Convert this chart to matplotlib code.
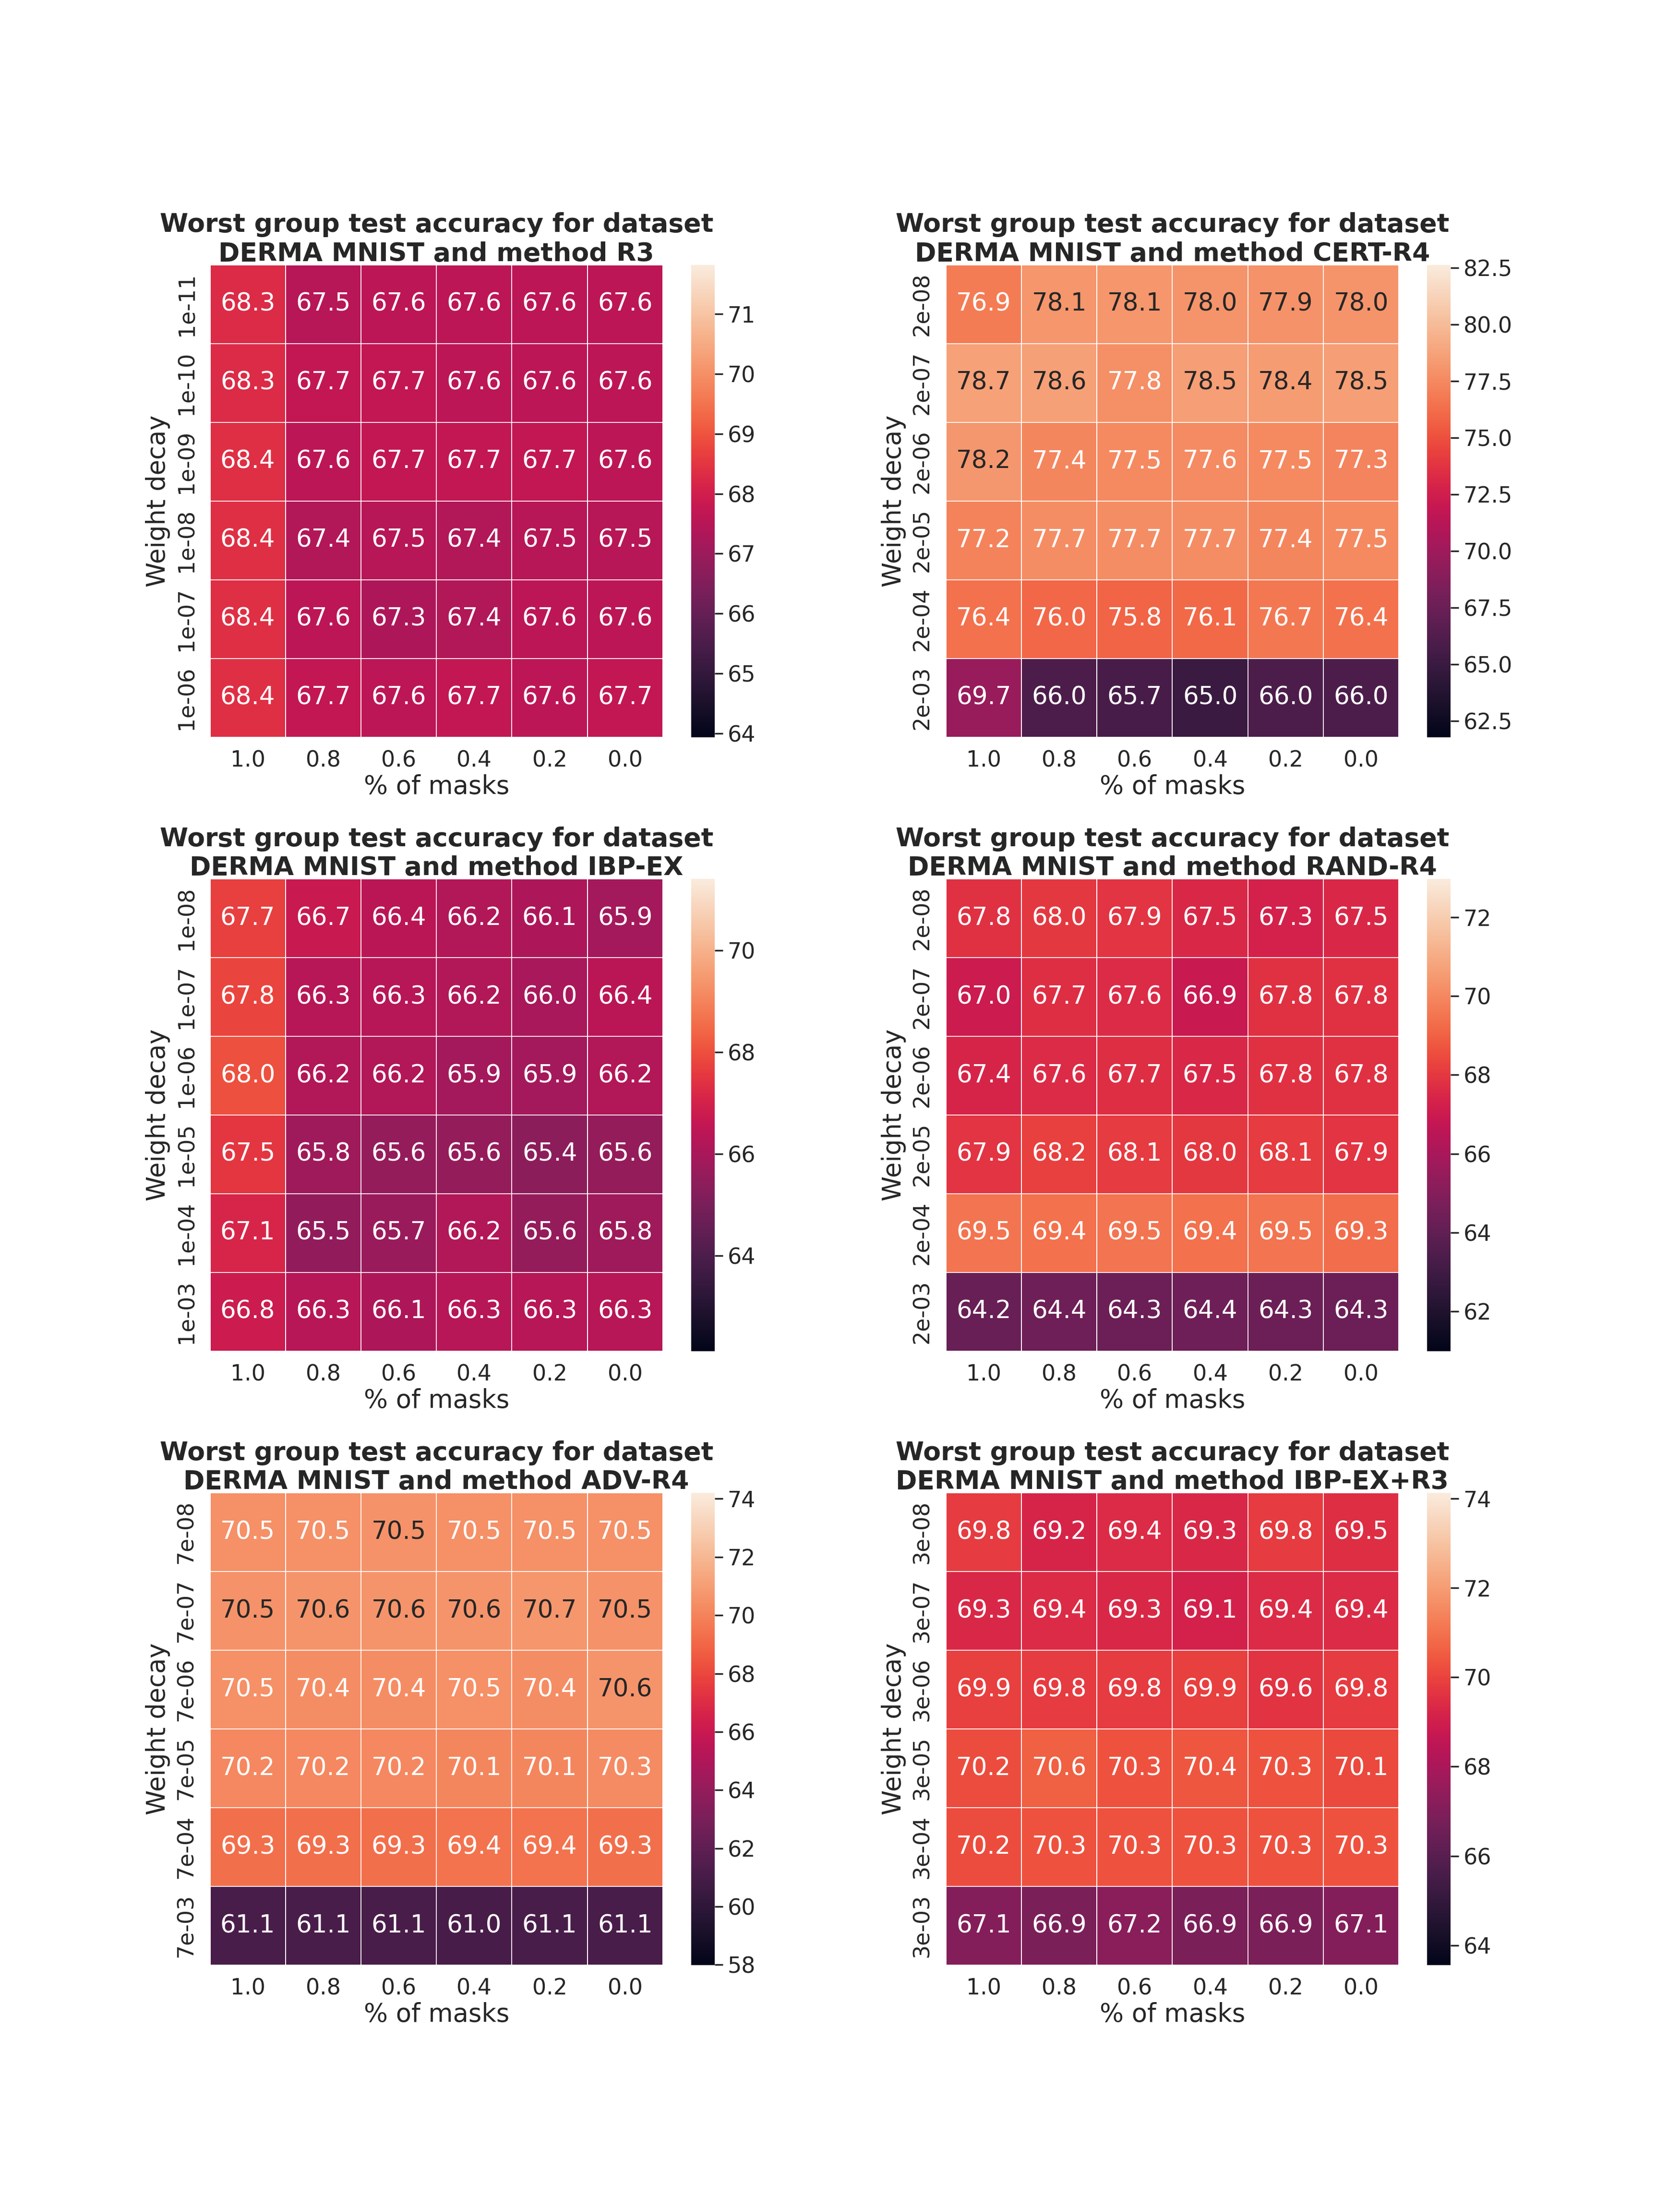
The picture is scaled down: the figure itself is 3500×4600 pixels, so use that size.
import numpy as np
import matplotlib
matplotlib.use("Agg")
import matplotlib.pyplot as plt
import seaborn as sns

sns.set_theme(style="white", font_scale=1.5)

masks = ["1.0", "0.8", "0.6", "0.4", "0.2", "0.0"]

# R3
wd_r3 = ["1e-11", "1e-10", "1e-09", "1e-08", "1e-07", "1e-06"]
acc_r3 = [
    [68.3, 67.5, 67.6, 67.6, 67.6, 67.6],
    [68.3, 67.7, 67.7, 67.6, 67.6, 67.6],
    [68.4, 67.6, 67.7, 67.7, 67.7, 67.6],
    [68.4, 67.4, 67.5, 67.4, 67.5, 67.5],
    [68.4, 67.6, 67.3, 67.4, 67.6, 67.6],
    [68.4, 67.7, 67.6, 67.7, 67.6, 67.7],
]

# CERT-R4
wd_cert = ["2e-08", "2e-07", "2e-06", "2e-05", "2e-04", "2e-03"]
acc_cert = [
    [76.9, 78.1, 78.1, 78.0, 77.92, 78.0],
    [78.69, 78.6, 77.8, 78.5, 78.4, 78.5],
    [78.2, 77.4, 77.5, 77.6, 77.5, 77.3],
    [77.2, 77.7, 77.7, 77.7, 77.4, 77.5],
    [76.4, 76.0, 75.8, 76.1, 76.7, 76.4],
    [69.7, 66.0, 65.7, 65.04, 66.0, 66.0],
]

# IBP-EX
wd_ibp = ["1e-08", "1e-07", "1e-06", "1e-05", "1e-04", "1e-03"]
acc_ibp = [
    [67.7, 66.7, 66.4, 66.2, 66.1, 65.9],
    [67.8, 66.3, 66.3, 66.2, 66.0, 66.4],
    [68.0, 66.2, 66.2, 65.9, 65.9, 66.2],
    [67.5, 65.8, 65.6, 65.6, 65.4, 65.6],
    [67.1, 65.5, 65.7, 66.2, 65.6, 65.8],
    [66.8, 66.3, 66.1, 66.3, 66.3, 66.3],
]

# RAND-R4
wd_rand = ["2e-08", "2e-07", "2e-06", "2e-05", "2e-04", "2e-03"]
acc_rand = [
    [67.8, 68.0, 67.9, 67.5, 67.3, 67.5],
    [67.0, 67.7, 67.6, 66.9, 67.8, 67.8],
    [67.4, 67.6, 67.7, 67.5, 67.8, 67.8],
    [67.9, 68.2, 68.1, 68.0, 68.1, 67.9],
    [69.5, 69.4, 69.5, 69.4, 69.5, 69.3],
    [64.2, 64.4, 64.3, 64.4, 64.3, 64.3],
]

# ADV-R4
wd_adv = ["7e-08", "7e-07", "7e-06", "7e-05", "7e-04", "7e-03"]
acc_adv = [
    [70.5, 70.5, 70.54, 70.5, 70.5, 70.5],
    [70.54, 70.6, 70.6, 70.6, 70.67, 70.54],
    [70.5, 70.4, 70.4, 70.5, 70.4, 70.6],
    [70.2, 70.2, 70.2, 70.1, 70.1, 70.3],
    [69.3, 69.3, 69.3, 69.4, 69.4, 69.3],
    [61.1, 61.1, 61.1, 61.04, 61.1, 61.1],
]

# IBP-EX+R3
wd_ibpr3 = ["3e-08", "3e-07", "3e-06", "3e-05", "3e-04", "3e-03"]
acc_ibpr3 = [
    [69.8, 69.2, 69.4, 69.3, 69.8, 69.5],
    [69.3, 69.4, 69.3, 69.1, 69.4, 69.4],
    [69.9, 69.8, 69.8, 69.9, 69.6, 69.8],
    [70.2, 70.6, 70.3, 70.4, 70.3, 70.1],
    [70.2, 70.3, 70.3, 70.3, 70.3, 70.3],
    [67.1, 66.9, 67.2, 66.9, 66.9, 67.1],
]

panels = [
    ("R3", wd_r3, acc_r3),
    ("CERT-R4", wd_cert, acc_cert),
    ("IBP-EX", wd_ibp, acc_ibp),
    ("RAND-R4", wd_rand, acc_rand),
    ("ADV-R4", wd_adv, acc_adv),
    ("IBP-EX+R3", wd_ibpr3, acc_ibpr3),
]

fig, axes = plt.subplots(3, 2, figsize=(17.5, 23))
fig.subplots_adjust(wspace=0.3, hspace=0.3)

for ax, (method, wd, acc) in zip(axes.flat, panels):
    acc = np.array(acc)
    sns.heatmap(acc, ax=ax, annot=True, fmt=".1f", linewidths=0.6, linecolor="white",
                annot_kws={"size": 18.5},
                vmin=acc.min() * 0.95, vmax=acc.max() * 1.05,
                xticklabels=masks, yticklabels=wd)
    ax.set_yticklabels(wd, rotation=90, va="center")
    ax.set_xlabel("% of masks", fontsize=19, labelpad=2)
    ax.set_ylabel("Weight decay", fontsize=19)
    ax.set_title("Worst group test accuracy for dataset\nDERMA MNIST and method " + method,
                 fontweight="bold", fontsize=19.3, pad=3)

fig.savefig("out.png", dpi=200)
